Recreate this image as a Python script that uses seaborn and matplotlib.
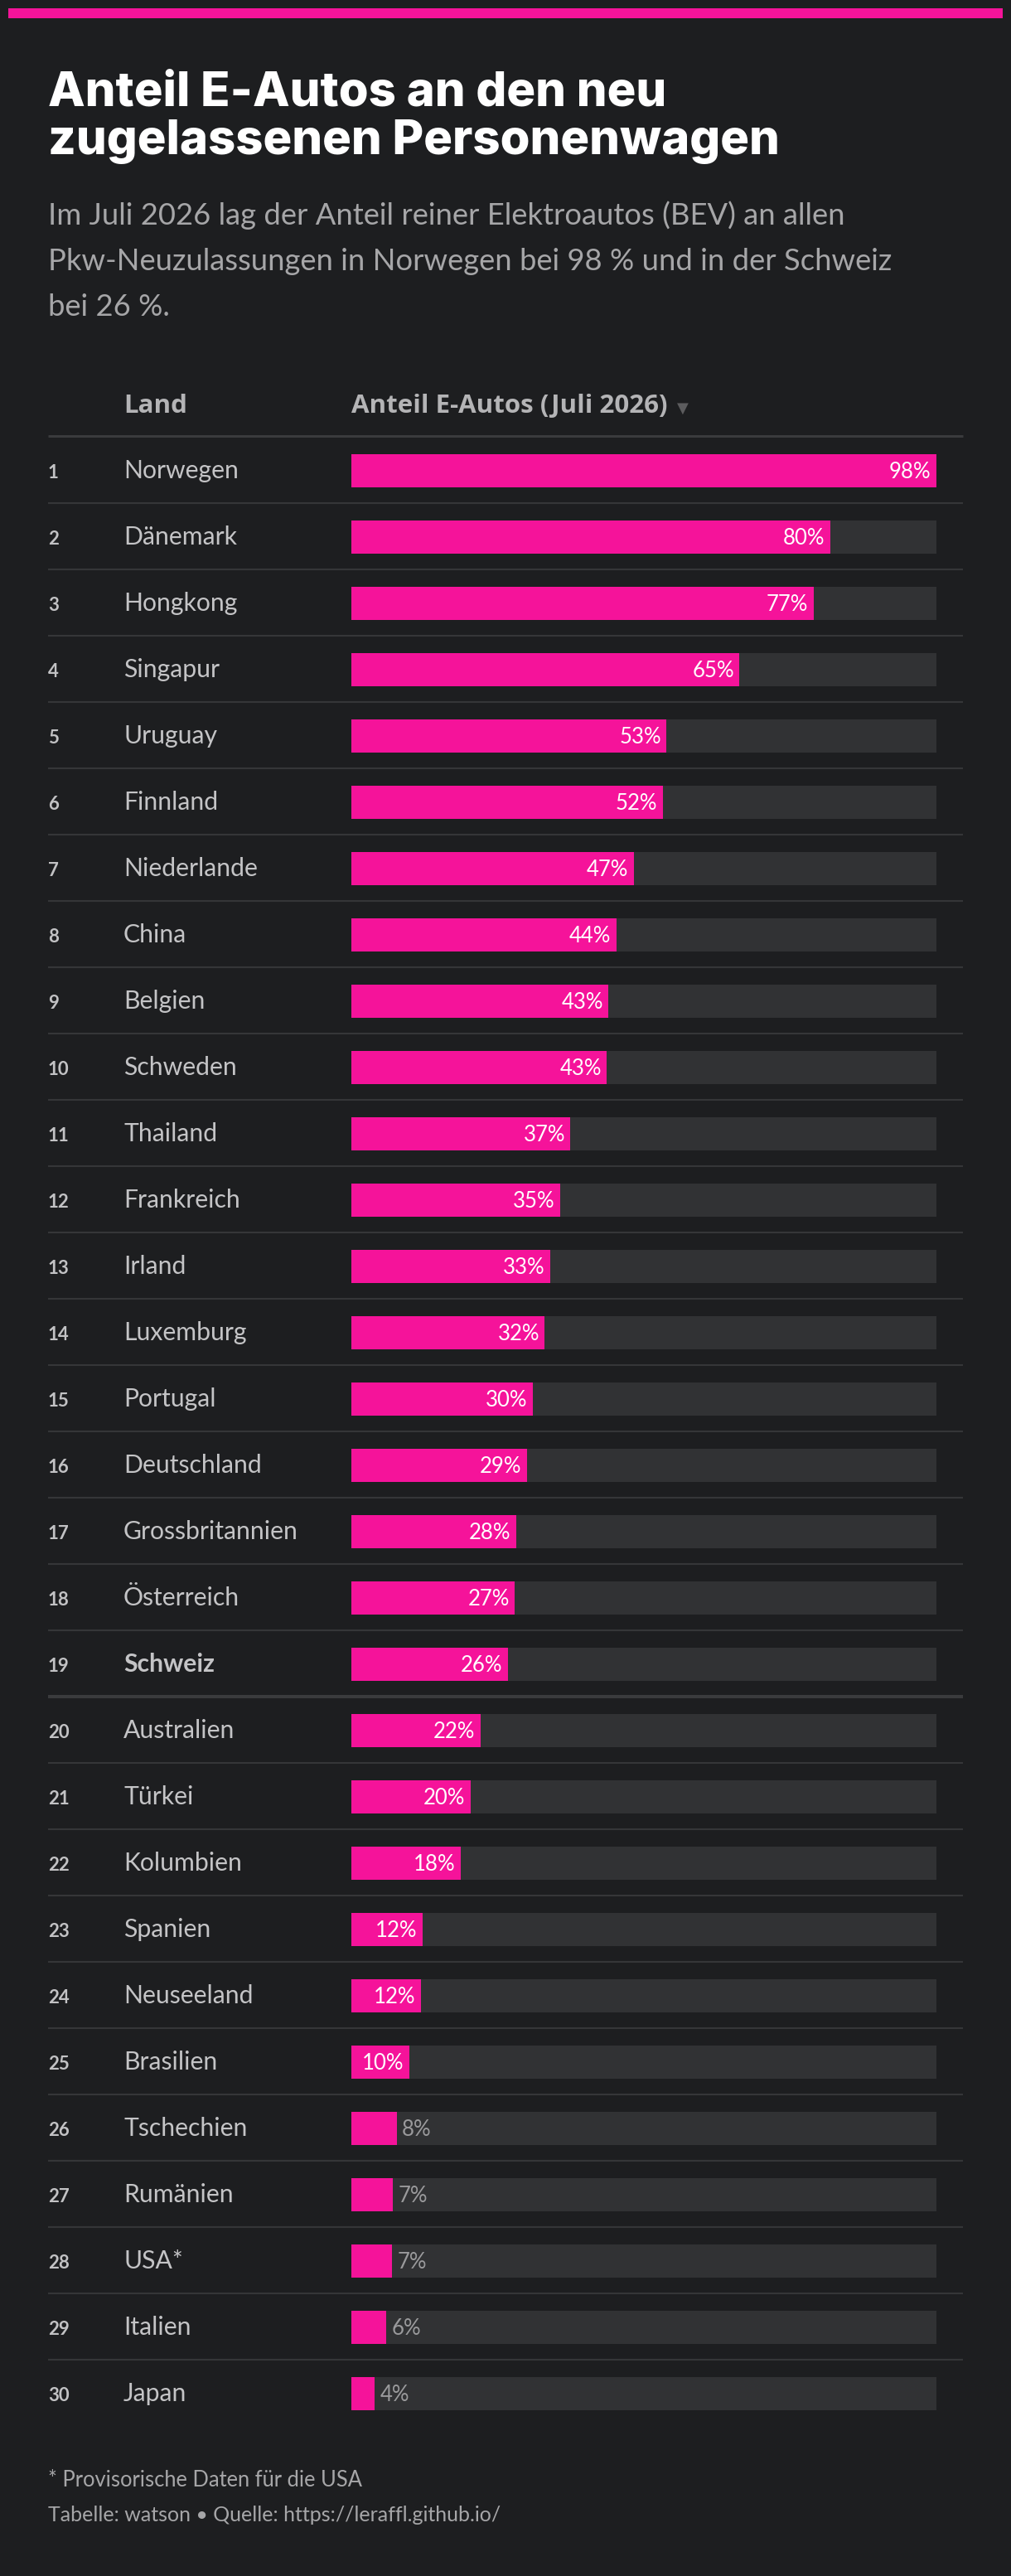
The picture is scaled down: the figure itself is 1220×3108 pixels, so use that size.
import numpy as np
import pandas as pd
import seaborn as sns
import matplotlib.pyplot as plt
from matplotlib.transforms import blended_transform_factory

###DATA###
countries = ["Norwegen", "Dänemark", "Hongkong", "Singapur", "Uruguay", "Finnland",
             "Niederlande", "China", "Belgien", "Schweden", "Thailand", "Frankreich",
             "Irland", "Luxemburg", "Portugal", "Deutschland", "Grossbritannien",
             "Österreich", "Schweiz", "Australien", "Türkei", "Kolumbien", "Spanien",
             "Neuseeland", "Brasilien", "Tschechien", "Rumänien", "USA*", "Italien", "Japan"]
shares = [98.0, 80.2, 77.4, 65.0, 52.8, 52.2, 47.3, 44.4, 43.1, 42.8, 36.7, 35.0,
          33.3, 32.4, 30.4, 29.4, 27.6, 27.4, 26.2, 21.6, 20.0, 18.3, 11.9,
          11.6, 9.7, 7.6, 6.9, 6.8, 5.8, 3.9]
ranks = list(range(1, 31))
highlight = "Schweiz"

title = "Anteil E-Autos an den neu\nzugelassenen Personenwagen"
subtitle = ["Im Juli 2026 lag der Anteil reiner Elektroautos (BEV) an allen",
            "Pkw-Neuzulassungen in Norwegen bei 98 % und in der Schweiz",
            "bei 26 %."]
col_land = "Land"
col_share = "Anteil E-Autos (Juli 2026)"
footnote = "* Provisorische Daten für die USA"
source = "Tabelle: watson • Quelle: https://leraffl.github.io/"

df = pd.DataFrame({"Land": countries, "Anteil": shares, "Rang": ranks})
df["Max"] = df["Anteil"].max()

###STYLE###
BG = "#1d1e20"
PINK = "#f5139a"
TRACK = "#313234"
SEP = "#353638"
W, H = 1220, 3108

sns.set_theme(style="white")
plt.rcParams["font.family"] = ["Lato", "DejaVu Sans"]

fig = plt.figure(figsize=(W / 100, H / 100), dpi=100, facecolor=BG)

def fx(px):
    return px / W

def fy(py):
    return 1 - py / H

# bar area: x 424..1130 px, rows centred at 568 + 80*i
top, pitch = 528, 80
ax = fig.add_axes([fx(424), fy(top + pitch * len(df)), fx(1130 - 424), pitch * len(df) / H])
ax.set_facecolor("none")

sns.barplot(data=df, x="Max", y="Land", color=TRACK, saturation=1, width=0.5,
            linewidth=0, edgecolor="none", ax=ax, orient="h")
sns.barplot(data=df, x="Anteil", y="Land", color=PINK, saturation=1, width=0.5,
            linewidth=0, edgecolor="none", ax=ax, orient="h")
ax.set_xlim(0, df["Max"].iloc[0])
ax.set_ylim(len(df) - 0.5, -0.5)
ax.set_axis_off()

tr = blended_transform_factory(fig.transFigure, ax.transData)
off = 0.11  # baseline offset in row units

for i, row in df.iterrows():
    bold = row["Land"] == highlight
    ax.text(fx(58), i + off, str(row["Rang"]), transform=tr, fontsize=16,
            fontweight="bold", color="#c2c2c4", va="baseline", ha="left")
    ax.text(fx(149), i + off, row["Land"], transform=tr, fontsize=21.7,
            fontweight="bold" if bold else "normal", color="#c4c4c6",
            va="baseline", ha="left")
    v = row["Anteil"]
    lab = f"{v:.0f}%"
    if v >= 9:
        ax.text(v - 0.9, i + off, lab, fontsize=18.5, color="white",
                va="baseline", ha="right")
    else:
        ax.text(v + 0.9, i + off, lab, fontsize=18.5, color="#9a9a9c",
                va="baseline", ha="left")
    if i < len(df) - 1:
        thick = 2.9 if bold else 1.5
        ax.plot([fx(58), fx(1162)], [i + 0.49, i + 0.49], transform=tr,
                color="#3a3b3d" if bold else SEP, lw=thick, clip_on=False,
                solid_capstyle="butt")

# header line
ax.plot([fx(58), fx(1162)], [-0.52, -0.52], transform=tr, color="#3a3b3d",
        lw=2.2, clip_on=False, solid_capstyle="butt")

###TEXT###
fig.add_artist(plt.Rectangle((fx(10), fy(22)), fx(1200), 12 / H,
                             transform=fig.transFigure, color=PINK, lw=0))
fig.text(fx(58), fy(186), title, fontsize=41.8, fontweight="heavy", color="white",
         family=["Inter", "DejaVu Sans"], va="baseline", ha="left",
         linespacing=1.1)
for k, line in enumerate(subtitle):
    fig.text(fx(58), fy(271 + 55 * k), line, fontsize=26.2, color="#a6a6a8",
             va="baseline", ha="left")

fig.text(fx(149), fy(498), col_land, fontsize=22.5, fontweight="bold",
         color="#b4b4b6", family=["Open Sans", "DejaVu Sans"],
         va="baseline", ha="left")
hdr = fig.text(fx(424), fy(498), col_share, fontsize=22.5, fontweight="bold",
               color="#b4b4b6", family=["Open Sans", "DejaVu Sans"],
               va="baseline", ha="left")
fig.add_artist(plt.Annotation("▼", xy=(1, 0), xycoords=hdr,
                              xytext=(8, 5.5), textcoords="offset points",
                              fontsize=13, color="#5c5c5e", family=["DejaVu Sans"],
                              va="baseline", ha="left"))

fig.text(fx(58), fy(3000), footnote, fontsize=18.4, color="#a6a6a8",
         va="baseline", ha="left")
fig.text(fx(58), fy(3042), source, fontsize=18.0, color="#a6a6a8",
         va="baseline", ha="left")

fig.savefig("out.png", dpi=100, facecolor=BG)
